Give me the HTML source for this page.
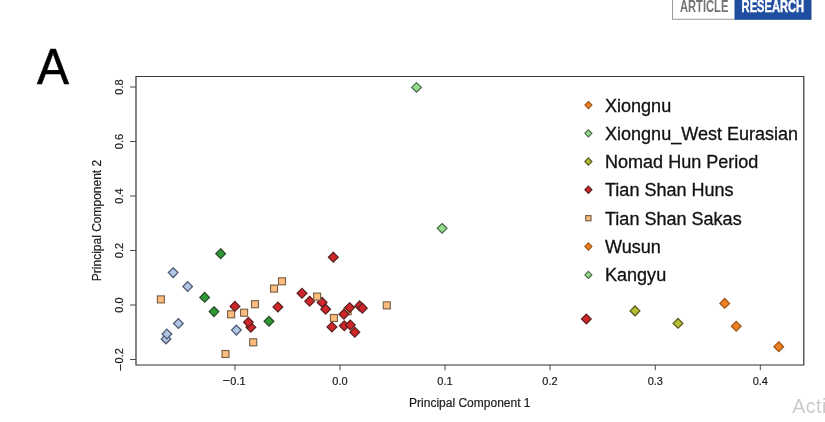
<!DOCTYPE html>
<html lang="en">
<head>
<meta charset="utf-8">
<title>Figure A - PCA</title>
<style>
html,body{margin:0;padding:0;background:#fff;}
body{width:825px;height:422px;overflow:hidden;position:relative;font-family:"Liberation Sans",sans-serif;}
svg{position:absolute;left:0;top:0;display:block;}
text{font-family:"Liberation Sans",sans-serif;}
.tk{stroke:#4a4a4a;stroke-width:1;}
.tl{font-size:11px;fill:#1c1c1c;stroke:#1c1c1c;stroke-width:0.2;}
.mn{font-size:13.4px;stroke-width:0;}
.al{font-size:12px;fill:#1c1c1c;stroke:#1c1c1c;stroke-width:0.2;}
.lg{font-size:18.05px;fill:#111;stroke:#111;stroke-width:0.3;}
</style>
</head>
<body>
<svg width="825" height="422" viewBox="0 0 825 422">
<rect x="0" y="0" width="825" height="422" fill="#fff"/>
<!-- badge -->
<rect x="672.5" y="-2" width="138.5" height="21.3" fill="#fff" stroke="#9a9a9a" stroke-width="1"/>
<rect x="734.5" y="-2" width="76.8" height="21.7" fill="#1f4ea1"/>
<text transform="translate(680 12) scale(0.645 1)" font-size="17.3" font-weight="bold" fill="#747474">ARTICLE</text>
<text transform="translate(741.6 12) scale(0.645 1)" font-size="17.3" font-weight="bold" fill="#fff" stroke="#fff" stroke-width="0.5">RESEARCH</text>
<!-- panel letter -->
<text transform="translate(37 84.1) scale(0.94 0.98)" font-size="51" fill="#000" stroke="#000" stroke-width="0.6">A</text>
<!-- frame -->
<path d="M135.5 76.5H804.3" fill="none" stroke="#3a3a3a" stroke-width="1.2"/>
<path d="M135.4 365H804.4M136 76.5V365M803.8 76.5V365" fill="none" stroke="#333" stroke-width="1.2"/>
<line x1="235" y1="365" x2="235" y2="370.3" class="tk"/>
<text x="234.1" y="385" class="tl" text-anchor="middle"><tspan class="mn" dy="0.4">−</tspan><tspan dy="-0.4">0.1</tspan></text>
<line x1="340" y1="365" x2="340" y2="370.3" class="tk"/>
<text x="340" y="385" class="tl" text-anchor="middle">0.0</text>
<line x1="445" y1="365" x2="445" y2="370.3" class="tk"/>
<text x="445" y="385" class="tl" text-anchor="middle">0.1</text>
<line x1="550" y1="365" x2="550" y2="370.3" class="tk"/>
<text x="550" y="385" class="tl" text-anchor="middle">0.2</text>
<line x1="655.3" y1="365" x2="655.3" y2="370.3" class="tk"/>
<text x="655.3" y="385" class="tl" text-anchor="middle">0.3</text>
<line x1="760.3" y1="365" x2="760.3" y2="370.3" class="tk"/>
<text x="760.3" y="385" class="tl" text-anchor="middle">0.4</text>
<line x1="130" y1="87" x2="136" y2="87" class="tk"/>
<text transform="translate(123 87) rotate(-90)" class="tl" text-anchor="middle">0.8</text>
<line x1="130" y1="141.5" x2="136" y2="141.5" class="tk"/>
<text transform="translate(123 141.5) rotate(-90)" class="tl" text-anchor="middle">0.6</text>
<line x1="130" y1="196" x2="136" y2="196" class="tk"/>
<text transform="translate(123 196) rotate(-90)" class="tl" text-anchor="middle">0.4</text>
<line x1="130" y1="250.5" x2="136" y2="250.5" class="tk"/>
<text transform="translate(123 250.5) rotate(-90)" class="tl" text-anchor="middle">0.2</text>
<line x1="130" y1="305" x2="136" y2="305" class="tk"/>
<text transform="translate(123 305) rotate(-90)" class="tl" text-anchor="middle">0.0</text>
<line x1="130" y1="359.5" x2="136" y2="359.5" class="tk"/>
<text transform="translate(123 359.8) rotate(-90)" class="tl" text-anchor="middle"><tspan class="mn" dy="1.8">−</tspan><tspan dy="-1.8">0.2</tspan></text>
<text x="469.8" y="406.9" class="al" text-anchor="middle">Principal Component 1</text>
<text transform="translate(101 220.5) rotate(-90)" class="al" text-anchor="middle">Principal Component 2</text>
<!-- points -->
<path d="M220.7 248.8L225.5 253.7L220.7 258.6L215.8 253.7Z" fill="#2f9a33" stroke="#2a4a2a" stroke-width="1.25"/>
<path d="M173.2 267.8L178.0 272.6L173.2 277.5L168.3 272.6Z" fill="#b2c6e3" stroke="#4a5870" stroke-width="1.25"/>
<path d="M187.7 281.6L192.5 286.5L187.7 291.4L182.8 286.5Z" fill="#b2c6e3" stroke="#4a5870" stroke-width="1.25"/>
<rect x="157.4" y="295.9" width="7.0" height="7.0" fill="#fcbd7e" stroke="#7a6046" stroke-width="1.15"/>
<path d="M204.7 292.5L209.5 297.4L204.7 302.2L199.8 297.4Z" fill="#2f9a33" stroke="#2a4a2a" stroke-width="1.25"/>
<path d="M214.0 306.8L218.8 311.6L214.0 316.5L209.2 311.6Z" fill="#2f9a33" stroke="#2a4a2a" stroke-width="1.25"/>
<path d="M178.4 318.6L183.2 323.5L178.4 328.4L173.6 323.5Z" fill="#b2c6e3" stroke="#4a5870" stroke-width="1.25"/>
<path d="M166.0 334.0L170.8 338.9L166.0 343.8L161.2 338.9Z" fill="#b2c6e3" stroke="#4a5870" stroke-width="1.25"/>
<path d="M166.9 329.1L171.8 334.0L166.9 338.9L162.1 334.0Z" fill="#b2c6e3" stroke="#4a5870" stroke-width="1.25"/>
<rect x="227.6" y="310.8" width="7.0" height="7.0" fill="#fcbd7e" stroke="#7a6046" stroke-width="1.15"/>
<path d="M234.9 301.5L239.8 306.4L234.9 311.2L230.1 306.4Z" fill="#d0262a" stroke="#5a2020" stroke-width="1.25"/>
<rect x="240.6" y="309.2" width="7.0" height="7.0" fill="#fcbd7e" stroke="#7a6046" stroke-width="1.15"/>
<rect x="251.5" y="300.7" width="7.0" height="7.0" fill="#fcbd7e" stroke="#7a6046" stroke-width="1.15"/>
<path d="M250.8 322.4L255.7 327.3L250.8 332.2L246.0 327.3Z" fill="#d0262a" stroke="#5a2020" stroke-width="1.25"/>
<path d="M248.4 317.4L253.2 322.3L248.4 327.2L243.6 322.3Z" fill="#d0262a" stroke="#5a2020" stroke-width="1.25"/>
<path d="M236.4 325.2L241.2 330.1L236.4 335.0L231.6 330.1Z" fill="#b2c6e3" stroke="#4a5870" stroke-width="1.25"/>
<rect x="249.7" y="338.8" width="7.0" height="7.0" fill="#fcbd7e" stroke="#7a6046" stroke-width="1.15"/>
<rect x="222.0" y="350.5" width="7.0" height="7.0" fill="#fcbd7e" stroke="#7a6046" stroke-width="1.15"/>
<path d="M269.0 316.4L273.9 321.3L269.0 326.2L264.1 321.3Z" fill="#2f9a33" stroke="#2a4a2a" stroke-width="1.25"/>
<rect x="270.5" y="285.1" width="7.0" height="7.0" fill="#fcbd7e" stroke="#7a6046" stroke-width="1.15"/>
<rect x="278.5" y="277.8" width="7.0" height="7.0" fill="#fcbd7e" stroke="#7a6046" stroke-width="1.15"/>
<path d="M277.9 302.1L282.8 307.0L277.9 311.9L273.0 307.0Z" fill="#d0262a" stroke="#5a2020" stroke-width="1.25"/>
<path d="M333.3 252.3L338.2 257.2L333.3 262.1L328.4 257.2Z" fill="#d0262a" stroke="#5a2020" stroke-width="1.25"/>
<path d="M302.0 288.4L306.9 293.3L302.0 298.2L297.1 293.3Z" fill="#d0262a" stroke="#5a2020" stroke-width="1.25"/>
<path d="M309.6 296.3L314.5 301.2L309.6 306.1L304.8 301.2Z" fill="#d0262a" stroke="#5a2020" stroke-width="1.25"/>
<path d="M322.1 297.5L327.0 302.4L322.1 307.2L317.2 302.4Z" fill="#d0262a" stroke="#5a2020" stroke-width="1.25"/>
<rect x="313.6" y="293.1" width="7.0" height="7.0" fill="#fcbd7e" stroke="#7a6046" stroke-width="1.15"/>
<path d="M325.6 304.3L330.5 309.2L325.6 314.1L320.8 309.2Z" fill="#d0262a" stroke="#5a2020" stroke-width="1.25"/>
<path d="M331.9 322.1L336.8 327.0L331.9 331.9L327.0 327.0Z" fill="#d0262a" stroke="#5a2020" stroke-width="1.25"/>
<rect x="330.4" y="314.5" width="7.0" height="7.0" fill="#fcbd7e" stroke="#7a6046" stroke-width="1.15"/>
<rect x="344.1" y="307.7" width="7.0" height="7.0" fill="#fcbd7e" stroke="#7a6046" stroke-width="1.15"/>
<path d="M343.9 309.3L348.8 314.2L343.9 319.1L339.0 314.2Z" fill="#d0262a" stroke="#5a2020" stroke-width="1.25"/>
<path d="M349.6 302.8L354.5 307.6L349.6 312.5L344.8 307.6Z" fill="#d0262a" stroke="#5a2020" stroke-width="1.25"/>
<path d="M359.6 301.0L364.5 305.9L359.6 310.8L354.8 305.9Z" fill="#d0262a" stroke="#5a2020" stroke-width="1.25"/>
<path d="M362.4 303.3L367.2 308.2L362.4 313.1L357.5 308.2Z" fill="#d0262a" stroke="#5a2020" stroke-width="1.25"/>
<path d="M344.3 320.9L349.2 325.8L344.3 330.7L339.4 325.8Z" fill="#d0262a" stroke="#5a2020" stroke-width="1.25"/>
<path d="M350.3 320.1L355.2 325.0L350.3 329.9L345.4 325.0Z" fill="#d0262a" stroke="#5a2020" stroke-width="1.25"/>
<path d="M354.8 327.3L359.7 332.2L354.8 337.1L349.9 332.2Z" fill="#d0262a" stroke="#5a2020" stroke-width="1.25"/>
<rect x="383.3" y="301.9" width="7.0" height="7.0" fill="#fcbd7e" stroke="#7a6046" stroke-width="1.15"/>
<path d="M416.5 82.6L421.4 87.4L416.5 92.2L411.6 87.4Z" fill="#96dc8c" stroke="#4a6a4a" stroke-width="1.25"/>
<path d="M442.1 223.5L447.0 228.3L442.1 233.2L437.2 228.3Z" fill="#96dc8c" stroke="#4a6a4a" stroke-width="1.25"/>
<path d="M586.4 314.1L591.2 319.0L586.4 323.9L581.5 319.0Z" fill="#d0262a" stroke="#5a2020" stroke-width="1.25"/>
<path d="M635.0 306.0L639.9 310.9L635.0 315.8L630.1 310.9Z" fill="#b8be34" stroke="#5a5a20" stroke-width="1.25"/>
<path d="M678.0 318.5L682.9 323.4L678.0 328.2L673.1 323.4Z" fill="#b8be34" stroke="#5a5a20" stroke-width="1.25"/>
<path d="M724.7 298.5L729.6 303.4L724.7 308.2L719.9 303.4Z" fill="#f28020" stroke="#9a561a" stroke-width="1.25"/>
<path d="M736.2 321.4L741.1 326.3L736.2 331.2L731.4 326.3Z" fill="#f28020" stroke="#9a561a" stroke-width="1.25"/>
<path d="M778.8 341.8L783.6 346.7L778.8 351.6L773.9 346.7Z" fill="#f28020" stroke="#9a561a" stroke-width="1.25"/>
<!-- legend -->
<path d="M588.4 101.5L591.9 105.1L588.4 108.6L584.9 105.1Z" fill="#f28020" stroke="#9a561a" stroke-width="1.2"/>
<text x="605" y="111.6" class="lg">Xiongnu</text>
<path d="M588.4 129.8L591.9 133.3L588.4 136.9L584.9 133.3Z" fill="#96dc8c" stroke="#4a6a4a" stroke-width="1.2"/>
<text x="605" y="139.8" class="lg">Xiongnu_West Eurasian</text>
<path d="M588.4 157.9L591.9 161.5L588.4 165.1L584.9 161.5Z" fill="#b8be34" stroke="#5a5a20" stroke-width="1.2"/>
<text x="605" y="168.0" class="lg">Nomad Hun Period</text>
<path d="M588.4 186.2L591.9 189.8L588.4 193.4L584.9 189.8Z" fill="#d0262a" stroke="#5a2020" stroke-width="1.2"/>
<text x="605" y="196.3" class="lg">Tian Shan Huns</text>
<rect x="585.8" y="215.6" width="5.2" height="5.2" fill="#fcbd7e" stroke="#7a6046" stroke-width="1.2"/>
<text x="605" y="224.7" class="lg">Tian Shan Sakas</text>
<path d="M588.4 242.9L591.9 246.5L588.4 250.1L584.9 246.5Z" fill="#f28020" stroke="#9a561a" stroke-width="1.2"/>
<text x="605" y="253.0" class="lg">Wusun</text>
<path d="M588.4 271.3L591.9 274.9L588.4 278.4L584.9 274.9Z" fill="#96dc8c" stroke="#4a6a4a" stroke-width="1.2"/>
<text x="605" y="281.4" class="lg">Kangyu</text>
<!-- watermark -->
<text x="792.3" y="413" font-size="19.6" letter-spacing="0.45" fill="#cbcbcb">Acti</text>
</svg>
</body>
</html>
